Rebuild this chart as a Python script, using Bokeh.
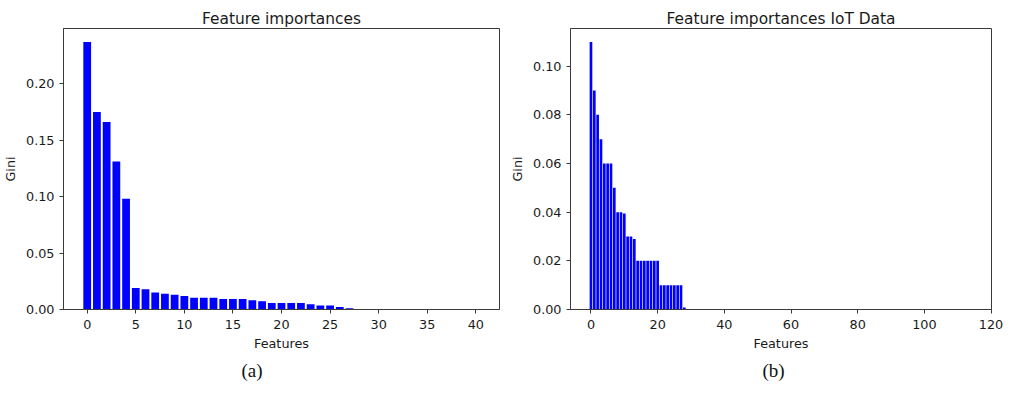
from bokeh.plotting import figure
from bokeh.models import Range1d, FixedTicker, PrintfTickFormatter, Title, ColumnDataSource
from bokeh.layouts import row
from bokeh.embed import file_html
from bokeh.resources import INLINE

# ---------------- data ----------------
gini_a = [0.237, 0.175, 0.166, 0.131, 0.098, 0.019, 0.018, 0.015, 0.014, 0.013,
          0.012, 0.0105, 0.0105, 0.0105, 0.0094, 0.0094, 0.0093, 0.0082, 0.0072, 0.0058,
          0.0058, 0.0058, 0.0058, 0.0047, 0.0035, 0.0035, 0.0023, 0.0012, 0.0, 0.0,
          0.0, 0.0, 0.0, 0.0, 0.0, 0.0, 0.0, 0.0, 0.0, 0.0,
          0.0]
gini_b = [0.110, 0.090, 0.080, 0.070, 0.060, 0.060, 0.060, 0.050, 0.040, 0.040,
          0.0395, 0.030, 0.030, 0.029, 0.020, 0.020, 0.020, 0.020, 0.020, 0.020,
          0.020, 0.010, 0.010, 0.010, 0.010, 0.010, 0.010, 0.010, 0.0008, 0.0,
          0.0, 0.0, 0.0, 0.0, 0.0, 0.0, 0.0, 0.0, 0.0, 0.0,
          0.0, 0.0, 0.0, 0.0, 0.0, 0.0, 0.0, 0.0, 0.0, 0.0,
          0.0, 0.0, 0.0, 0.0, 0.0, 0.0, 0.0, 0.0, 0.0, 0.0,
          0.0, 0.0, 0.0, 0.0, 0.0, 0.0, 0.0, 0.0, 0.0, 0.0,
          0.0, 0.0, 0.0, 0.0, 0.0, 0.0, 0.0, 0.0, 0.0, 0.0,
          0.0, 0.0, 0.0, 0.0, 0.0, 0.0, 0.0, 0.0, 0.0, 0.0,
          0.0, 0.0, 0.0, 0.0, 0.0, 0.0, 0.0, 0.0, 0.0, 0.0,
          0.0, 0.0, 0.0, 0.0, 0.0, 0.0, 0.0, 0.0, 0.0, 0.0,
          0.0, 0.0, 0.0, 0.0, 0.0]
xticks_a = [0, 5, 10, 15, 20, 25, 30, 35, 40]
yticks_a = [0.00, 0.05, 0.10, 0.15, 0.20]
xticks_b = [0, 20, 40, 60, 80, 100, 120]
yticks_b = [0.00, 0.02, 0.04, 0.06, 0.08, 0.10]
titles = ["Feature importances", "Feature importances IoT Data"]
captions = ["(a)", "(b)"]
xlabel = "Features"
ylabel = "Gini"

FONT = "DejaVu Sans"
LINE = "#3a3a3a"
TXT = "#1a1a1a"
BAR_W = 0.8
H = 386
FRAME_BOTTOM = 309


def make(values, xticks, yticks, title, caption, width, bl, br, bt, cap_offset):
    n = len(values)
    idx = list(range(n))
    lo, hi = -BAR_W / 2, n - 1 + BAR_W / 2
    m = 0.05 * (hi - lo)
    p = figure(width=width, height=H, output_backend="svg", toolbar_location=None,
               x_range=Range1d(lo - m, hi + m), y_range=Range1d(0, max(values) * 1.05),
               min_border_left=bl, min_border_right=br, min_border_top=bt,
               min_border_bottom=H - FRAME_BOTTOM)
    src = ColumnDataSource(dict(x=idx, top=values))
    p.vbar(x="x", top="top", width=BAR_W, bottom=0, source=src,
           fill_color="#0000ff", line_color=None)
    p.grid.visible = False
    p.outline_line_color = LINE
    p.outline_line_width = 1
    p.outline_line_alpha = 1
    p.background_fill_color = "white"
    p.border_fill_color = "white"

    p.xaxis.ticker = FixedTicker(ticks=xticks)
    p.yaxis.ticker = FixedTicker(ticks=yticks)
    p.yaxis.formatter = PrintfTickFormatter(format="%.2f")
    for ax in (p.xaxis[0], p.yaxis[0]):
        ax.axis_line_color = LINE
        ax.major_tick_line_color = LINE
        ax.major_tick_in = 0
        ax.major_tick_out = 4
        ax.minor_tick_line_color = None
        ax.major_label_text_font = FONT
        ax.major_label_text_font_size = "12.8px"
        ax.major_label_text_color = TXT
        ax.axis_label_text_font = FONT
        ax.axis_label_text_font_size = "12.8px"
        ax.axis_label_text_font_style = "normal"
        ax.axis_label_text_color = TXT
    p.xaxis.axis_label = xlabel
    p.yaxis.axis_label = ylabel
    p.xaxis.major_label_standoff = 6
    p.xaxis.axis_label_standoff = 4
    p.yaxis.major_label_standoff = 5
    p.yaxis.axis_label_standoff = 5

    p.title.text = title
    p.title.align = "center"
    p.title.text_font = FONT
    p.title.text_font_size = "15.4px"
    p.title.text_font_style = "normal"
    p.title.text_color = TXT
    p.title.standoff = 2

    p.add_layout(Title(text=caption, align="left", offset=cap_offset,
                       text_font="Liberation Serif", text_font_size="19px",
                       text_font_style="normal", text_color="#111111", standoff=8), "below")
    return p


p1 = make(gini_a, xticks_a, yticks_a, titles[0], captions[0], 506, 63, 7, 23, 178)
p2 = make(gini_b, xticks_b, yticks_b, titles[1], captions[1], 497, 64, 12, 28, 192)

layout = row(p1, p2)
open("out.html", "w").write(file_html(layout, INLINE))
